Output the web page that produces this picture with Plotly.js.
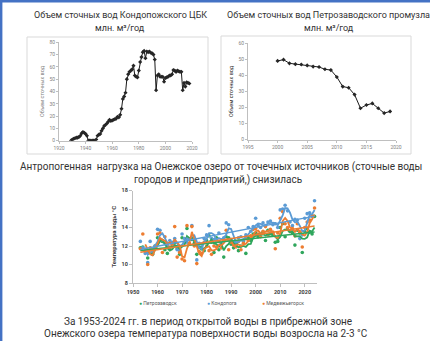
<!DOCTYPE html>
<html><head><meta charset="utf-8">
<script src="https://cdn.plot.ly/plotly-3.0.1.min.js"></script>
<style>html,body{margin:0;padding:0;background:#fff}#c{width:432px;height:341px}</style>
</head><body><div id="c"></div>
<script>
// ---- Chart 1: Kondopoga pulp & paper mill wastewater, mln m3/yr
const kondYears = [];
for (let y = 1929; y <= 2018; y++) kondYears.push(y);
const kondValues = [0,1,1.5,2,2.5,2.5,3,4,6,7,6.5,5.5,4,0,0,0,0,0,0,1,4,5,5.5,8,10,12,13,14,15.5,17,16,16.5,17,17.5,18,19.5,19,21,26,34,36,39,50,54,56,57,58,61,53,52,51.5,57,64,68,72,73,67,72.5,72,72.5,71.5,71,70,66,41,53,54,52,52,52,48,51,51.5,52,53,53,54,57.5,57,56,57,56.5,56,56,41,47,44,47.5,47,46.5];

// ---- Chart 2: Petrozavodsk industrial hub wastewater
const petrYears = [2000,2001,2002,2003,2004,2005,2006,2007,2008,2009,2010,2011,2012,2013,2014,2015,2016,2017,2018,2019];
const petrValues = [49,49.8,47.5,47,46.8,46.2,45.5,45.2,43.8,43.3,39,33,32.3,28,19.5,21.5,22.5,19.5,16.5,17.5];

// ---- Chart 3: water temperature 1953-2024
const tYears = [];
for (let y = 1953; y <= 2024; y++) tYears.push(y);
const tempKondopoga = [12.5,11.8,11.2,10.2,12.5,11.6,12.0,13.8,13.7,12.6,12.3,12.0,12.6,12.4,12.8,11.6,11.5,13.3,12.8,12.4,12.7,14.2,12.6,10.5,12.3,12.2,12.8,13.2,14.2,12.8,12.7,12.5,13.4,12.3,12.9,14.5,14.3,12.7,12.4,12.0,12.9,13.0,12.6,13.2,14.0,13.6,14.1,15.0,14.2,14.0,14.5,14.2,14.6,14.7,14.3,14.4,14.0,15.9,16.0,16.4,15.8,14.6,14.2,14.9,14.8,12.8,13.2,15.0,15.5,15.6,15.2,16.9];
const tempMedvezh = [11.7,13.3,11.5,10.0,11.8,11.2,11.9,13.3,13.4,11.3,13.0,12.3,11.9,12.2,14.1,10.8,11.3,10.6,10.4,14.2,12.3,14.1,12.0,10.1,11.4,11.2,12.4,12.0,11.5,11.1,12.0,11.9,12.5,11.8,12.6,13.7,11.6,12.4,12.1,11.9,12.5,11.6,12.3,12.8,12.6,13.1,13.8,13.9,13.3,13.0,13.6,14.1,13.2,13.8,13.5,11.7,13.4,15.0,15.7,14.4,14.0,13.6,13.9,13.1,14.4,13.5,11.9,14.0,14.6,14.8,15.3,16.1];
const tempPetroz = [11.8,11.9,11.4,10.7,11.6,11.1,12.0,12.9,12.6,12.5,11.6,11.2,11.7,12.0,12.3,11.7,11.1,12.9,12.4,13.9,12.2,12.7,12.3,11.1,11.9,11.8,11.5,12.6,13.1,12.4,11.3,12.9,11.6,12.2,10.8,13.0,12.9,12.2,11.8,12.3,11.5,12.0,12.5,11.2,12.9,12.6,13.3,13.4,13.0,13.3,13.5,12.6,13.7,13.4,13.2,12.4,12.5,14.0,14.4,13.0,13.8,13.6,13.4,12.1,13.7,13.4,11.3,13.6,13.9,13.5,13.3,15.2];
const seriesNames = ['Петрозаводск','Кондопога','Медвежьегорск'];

const W = 432, H = 341;
const px = x => x / W, py = y => 1 - y / H;

const cBlue = '#5B9BD5', cOrange = '#ED7D31', cGreen = '#2FA65C';

function movingAvg(xs, ys, n) {
  const ox = [], oy = [];
  for (let i = n - 1; i < ys.length; i++) {
    let s = 0; for (let k = 0; k < n; k++) s += ys[i - k];
    ox.push(xs[i]); oy.push(s / n);
  }
  return [ox, oy];
}
function linTrend(xs, ys) {
  const n = xs.length;
  let sx = 0, sy = 0, sxx = 0, sxy = 0;
  for (let i = 0; i < n; i++) { sx += xs[i]; sy += ys[i]; sxx += xs[i]*xs[i]; sxy += xs[i]*ys[i]; }
  const b = (n*sxy - sx*sy) / (n*sxx - sx*sx), a = (sy - b*sx) / n;
  return [[xs[0], xs[n-1]], [a + b*xs[0], a + b*xs[n-1]]];
}

const traces = [];
traces.push({x: kondYears, y: kondValues, xaxis: 'x', yaxis: 'y', type: 'scatter', mode: 'lines+markers',
  line: {color: '#1a1a1a', width: 1}, marker: {symbol: 'diamond', size: 3.2, color: '#262626'}, showlegend: false});
traces.push({x: petrYears, y: petrValues, xaxis: 'x2', yaxis: 'y2', type: 'scatter', mode: 'lines+markers',
  line: {color: '#1a1a1a', width: 1}, marker: {symbol: 'diamond', size: 3.2, color: '#262626'}, showlegend: false});

const tSeries = [[tempPetroz, cGreen], [tempKondopoga, cBlue], [tempMedvezh, cOrange]];
tSeries.forEach(([vals, col], i) => {
  traces.push({x: tYears, y: vals, xaxis: 'x3', yaxis: 'y3', type: 'scatter', mode: 'markers', name: seriesNames[i],
    marker: {size: 3.6, color: col}, showlegend: false});
});
tSeries.forEach(([vals, col]) => {
  const [mx, my] = movingAvg(tYears, vals, 3);
  traces.push({x: mx, y: my, xaxis: 'x3', yaxis: 'y3', type: 'scatter', mode: 'lines',
    line: {color: col, width: 1.8}, showlegend: false, hoverinfo: 'skip'});
});
tSeries.forEach(([vals, col]) => {
  const [tx, ty] = linTrend(tYears, vals);
  traces.push({x: tx, y: ty, xaxis: 'x3', yaxis: 'y3', type: 'scatter', mode: 'lines',
    line: {color: col, width: 1.4}, showlegend: false, hoverinfo: 'skip'});
});

const font = 'Roboto, "Open Sans", "Noto Sans", sans-serif';
const txtCol = '#333333';
const smallAxis = (range, dtick, dom, anchor, extra) => Object.assign({
  range: range, dtick: dtick, domain: dom, anchor: anchor, showgrid: false, zeroline: false,
  showline: true, linecolor: '#BFBFBF', linewidth: 1, ticks: 'outside', ticklen: 2, tickcolor: '#BFBFBF',
  tickfont: {family: font, size: 5, color: '#7F7F7F'}, fixedrange: true
}, extra || {});

const ann = (x, y, text, size, extra) => Object.assign({
  xref: 'paper', yref: 'paper', x: px(x), y: py(y), text: text, showarrow: false,
  xanchor: 'center', yanchor: 'middle', font: {family: font, size: size, color: txtCol}
}, extra || {});

const legFont = {family: font, size: 5, color: '#595959'};

const layout = {
  width: W, height: H, margin: {l: 0, r: 0, t: 0, b: 0, pad: 0},
  paper_bgcolor: '#fff', plot_bgcolor: 'rgba(0,0,0,0)', showlegend: false,
  xaxis: smallAxis([1920, 2020], 20, [px(59), px(192)], 'y'),
  yaxis: smallAxis([0, 80], 10, [py(140.7), py(42.3)], 'x', {title: {text: 'Объем сточных вод', font: {family: font, size: 5.5, color: '#7F7F7F'}, standoff: 4}}),
  xaxis2: smallAxis([1995, 2020], 5, [px(248), px(396)], 'y2'),
  yaxis2: smallAxis([0, 60], 10, [py(139.5), py(43.3)], 'x2', {title: {text: 'Объем сточных вод', font: {family: font, size: 5.5, color: '#262626'}, standoff: 4}}),
  xaxis3: smallAxis([1950, 2025], 10, [px(133), px(317)], 'y3', {tickfont: {family: font, size: 5.5, color: '#404040', weight: 'bold'}, ticklen: 3}),
  yaxis3: smallAxis([8, 18], 2, [py(283), py(190.5)], 'x3', {tickfont: {family: font, size: 5.5, color: '#404040', weight: 'bold'}, ticklen: 3,
    title: {text: 'Температура воды °С', font: {family: font, size: 6, color: '#404040', weight: 'bold'}, standoff: 4}}),
  shapes: [
    {type: 'rect', xref: 'paper', yref: 'paper', x0: px(27), x1: px(208), y0: py(154), y1: py(37), line: {color: '#D9D9D9', width: 1}},
    {type: 'rect', xref: 'paper', yref: 'paper', x0: px(221), x1: px(411), y0: py(154), y1: py(36), line: {color: '#D9D9D9', width: 1}},
    {type: 'line', xref: 'paper', yref: 'paper', x0: 0, x1: px(430), y0: py(1.2), y1: py(1.2), line: {color: '#4472C4', width: 2.4}},
    {type: 'line', xref: 'paper', yref: 'paper', x0: px(1.2), x1: px(1.2), y0: 0, y1: 1, line: {color: '#4472C4', width: 2.4}}
  ],
  annotations: [
    ann(120, 15, 'Объем сточных вод Кондопожского ЦБК', 9),
    ann(120, 27.5, 'млн. м³/год', 9),
    ann(328, 15, 'Объем сточных вод Петрозаводского промузла', 9),
    ann(329, 27.5, 'млн. м³/год', 9),
    ann(221, 167, 'Антропогенная  нагрузка на Онежское озеро от точечных источников (сточные воды', 10),
    ann(218, 180, 'городов и предприятий,) снизилась', 10),
    ann(158, 303, '● ' + seriesNames[0], 5, {font: Object.assign({}, legFont)}),
    ann(222, 303, '● ' + seriesNames[1], 5, {font: Object.assign({}, legFont)}),
    ann(283, 303, '● ' + seriesNames[2], 5, {font: Object.assign({}, legFont)}),
    ann(208, 321, 'За 1953-2024 гг. в период открытой воды в прибрежной зоне', 10),
    ann(205.5, 333, 'Онежского озера температура поверхности воды возросла на 2-3 °С', 10)
  ]
};

Plotly.newPlot('c', traces, layout, {staticPlot: true, displayModeBar: false}).then(() => {
  // colour the legend bullets to match their series
  const cols = [cGreen, cBlue, cOrange];
  const anns = document.querySelectorAll('.annotation-text');
  anns.forEach(el => {
    const t = el.textContent;
    seriesNames.forEach((n, i) => {
      if (t === '● ' + n) {
        el.innerHTML = '<tspan style="fill:' + cols[i] + '">●</tspan><tspan> ' + n + '</tspan>';
      }
    });
  });
});
</script></body></html>
